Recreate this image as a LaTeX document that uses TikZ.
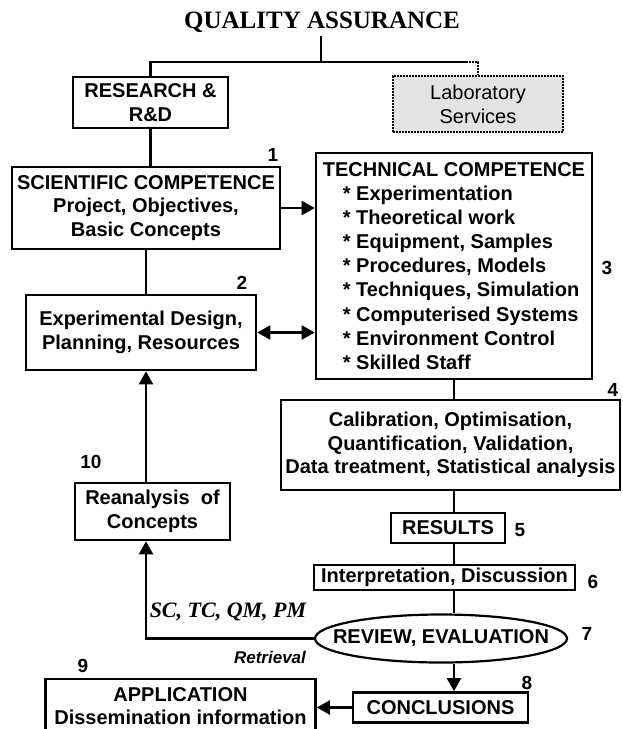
\documentclass[tikz,border=0pt]{standalone}
\usepackage{fontspec}
\setmainfont{Liberation Sans}
\newfontfamily\qaserif{Liberation Serif}
\usetikzlibrary{arrows.meta,shapes.geometric,positioning}

\begin{document}
\begin{tikzpicture}[x=1pt,y=-1pt,
        box/.style={draw, line width=2.6pt, align=center, inner sep=0pt,
                    font=\fontsize{20}{23.7}\selectfont\bfseries},
        link/.style={line width=2.2pt},
        arr/.style={line width=2.2pt, -{Triangle[length=13pt,width=14pt]}},
        num/.style={font=\fontsize{19}{22}\selectfont\bfseries}]
    \clip (0,0) rectangle (623,729);
    \node[font=\qaserif\fontsize{25}{28}\selectfont\bfseries] (qa) at (322,22) {QUALITY ASSURANCE};
    \node[box, minimum width=155, minimum height=51] (research) at (150.5,102.5) {RESEARCH \&\\R\&D};
    \node[box, minimum width=170, minimum height=56, dash pattern=on 1.6pt off 1.4pt,
          fill=gray!22, font=\fontsize{20}{23.7}\selectfont] (lab) at (478,104) {Laboratory\\Services};
    \node[box, minimum width=268, minimum height=82] (sci) at (146,208)
        {SCIENTIFIC COMPETENCE\\Project, Objectives,\\Basic Concepts};
    \node[box, align=left, minimum width=276, minimum height=226,
          font=\fontsize{20}{24.1}\selectfont\bfseries] (tech) at (454,266)
        {TECHNICAL COMPETENCE\\
         \hspace*{1em}* Experimentation\\
         \hspace*{1em}* Theoretical work\\
         \hspace*{1em}* Equipment, Samples\\
         \hspace*{1em}* Procedures, Models\\
         \hspace*{1em}* Techniques, Simulation\\
         \hspace*{1em}* Computerised Systems\\
         \hspace*{1em}* Environment Control\\
         \hspace*{1em}* Skilled Staff};
    \node[box, minimum width=230, minimum height=75] (expdes) at (141,332.5)
        {Experimental Design,\\Planning, Resources};
    \node[box, minimum width=339, minimum height=90] (calib) at (450.5,445)
        {Calibration, Optimisation,\\Quantification, Validation,\\Data treatment, Statistical analysis};
    \node[box, minimum width=114, minimum height=30] (results) at (448,528) {RESULTS};
    \node[box, minimum width=261, minimum height=25] (interp) at (444.5,577.5) {Interpretation, Discussion};
    \node[box, ellipse, line width=2.2pt, inner xsep=-20pt, minimum width=252, minimum height=48]
        (review) at (441,638.5) {REVIEW, EVALUATION};
    \node[box, minimum width=155, minimum height=57] (reanal) at (152.5,511.5) {Reanalysis\ \ of\\Concepts};
    \node[box, minimum width=175, minimum height=30] (concl) at (440.5,707.5) {CONCLUSIONS};
    \node[box, minimum width=270, minimum height=54] (appl) at (180.5,706)
        {APPLICATION\\Dissemination information};
    \node[font=\qaserif\fontsize{22}{24}\selectfont\bfseries\itshape] (codes) at (228,612) {SC, TC, QM, PM};
    \node[font=\fontsize{17}{20}\selectfont\bfseries\itshape] (retr) at (270,657) {Retrieval};
    \foreach \n/\x/\y in {1/273/155, 2/242/283, 3/607/268, 4/613/390, 5/520/530,
                          6/593/582, 7/587/634, 8/527/683, 9/83/666, 10/91/462}
        \node[num] (n\n) at (\x,\y) {\n};
    % tree under the title
    \coordinate (fork) at (321,62);
    \coordinate (col) at (454,0);
    \draw[link] (qa.south -| fork) -- (fork);
    \draw[link] (fork) -| (research.north);
    \draw[link] (fork) -- ++(145,0) coordinate (dotstart);
    \draw[link, dash pattern=on 1.6pt off 1.4pt] (dotstart) -| (lab.north);
    % left column
    \draw[link] (research.south) -- (research.south |- sci.north);
    \draw[link] (sci.south) -- (sci.south |- expdes.north);
    \draw[arr] (sci.east) -- (sci.east -| tech.west);
    \draw[arr, {Triangle[length=13pt,width=14pt]}-{Triangle[length=13pt,width=14pt]}]
        (expdes.east) -- (expdes.east -| tech.west);
    \draw[arr] (reanal.north -| sci.south) -- (expdes.south -| sci.south);
    \draw[arr] (review.west) -| (reanal.south -| sci.south);
    % right column
    \draw[link] (tech.south -| col) -- (calib.north -| col);
    \draw[link] (calib.south -| col) -- (results.north -| col);
    \draw[link] (results.south -| col) -- (interp.north -| col);
    \draw[link] (interp.south -| col) -- (review.north -| col);
    \draw[arr] (review.south -| col) -- (concl.north -| col);
    \draw[arr] (concl.west) -- (concl.west -| appl.east);
\end{tikzpicture}
\end{document}
